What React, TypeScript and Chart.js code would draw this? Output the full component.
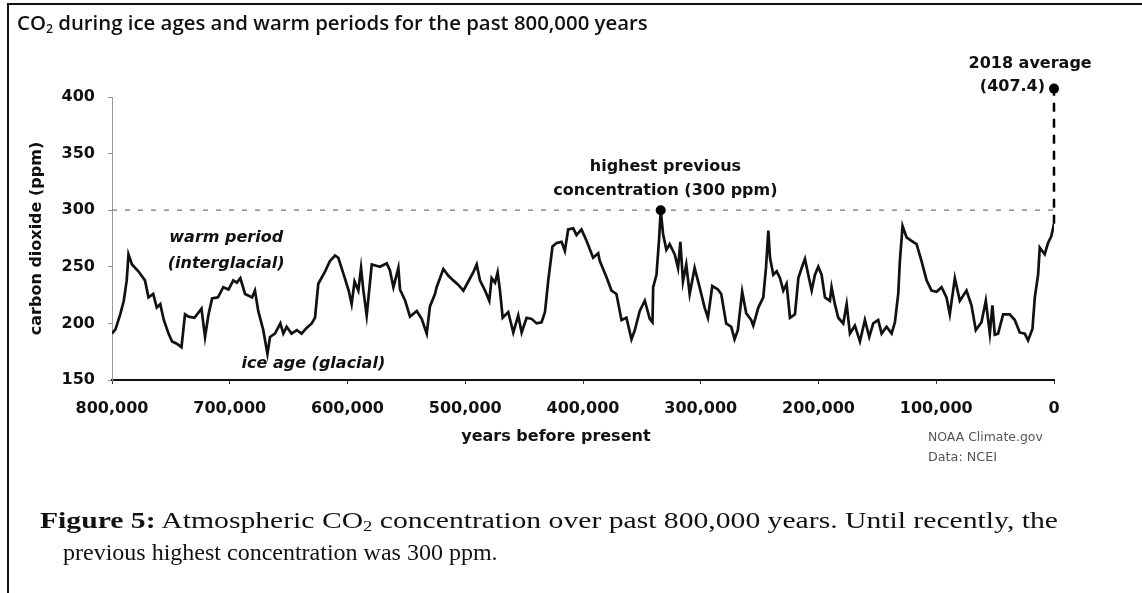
import React, { useEffect, useLayoutEffect, useRef, useState } from "react";
import { Chart, registerables } from "chart.js";

Chart.register(...registerables);

// thousands of years before present
const yearsKyr = [
  800, 797, 793, 790, 787.5, 786, 783, 777.6, 772, 769, 765, 762, 759, 756, 752, 749, 745, 741, 738, 735,
  730, 724, 721, 718, 715, 710, 705.5, 701, 697, 694, 691, 687, 681, 678.6, 675.8, 671.5, 668, 665.8, 661.6, 657,
  654.5, 651.7, 647.5, 643, 639, 634.7, 630.4, 627.6, 624.8, 619, 615, 610.6, 607.8, 603.5, 599, 596.5, 594, 590.8, 588.5, 586.5,
  583.7, 579.4, 572.4, 566.7, 564, 561, 556.8, 555.4, 551, 546.9, 541.2, 537, 532.7, 530, 525.7, 524.3, 518.6, 514.3, 510.2, 505.8,
  501.6, 497.4, 493.2, 490.3, 487.5, 483.2, 479.6, 477.6, 474.7, 472.5, 470.5, 468.2, 463.5, 459.2, 455, 452.1, 447.9, 443.6, 439.4, 435.2,
  432.3, 429.5, 425.9, 422.4, 418.2, 415.4, 412.6, 408.3, 405.5, 401.3, 397, 391.4, 387.1, 385.7, 380.1, 375.8, 371.6, 367.3, 363.1, 358.8,
  356, 351.8, 347.5, 343.3, 341, 340.4, 337.6, 335.4, 334, 332, 329.2, 326.4, 322.1, 319.3, 317.3, 315.1, 312.3, 309.4, 305.2, 301,
  296.7, 293.9, 290.2, 285.4, 282.6, 278.4, 274.1, 271.3, 268.5, 264.8, 261.4, 257.2, 255.4, 251.1, 246.9, 244.6, 242.6, 241.2, 238.4, 235.5,
  232.7, 229.9, 227.1, 224.2, 220, 217.1, 214.3, 211.5, 208.7, 205.8, 203, 200.2, 197.4, 194.5, 190.3, 188.9, 186.1, 183.2, 179, 176.1,
  173.3, 169.1, 164.8, 160.6, 156.9, 153.5, 149.3, 146.4, 142.2, 137.9, 135.1, 132.3, 130.9, 128.6, 125.2, 121, 116.7, 112.5, 108.2, 104,
  99.7, 95.5, 91.3, 88.5, 84.2, 80, 74.3, 70.1, 66.4, 61.6, 57.9, 54.5, 52.3, 50.3, 47.5, 43.2, 37.6, 33.3, 29.1, 24.8,
  22, 18.3, 16.3, 13.5, 12.1, 7.9, 5.1, 2.3, 0,
];

// CO2 (ppm)
const co2Ppm = [
  191, 195, 208, 220, 238, 261, 252, 246, 238, 223, 226, 214, 217, 203, 191, 184, 182, 179, 208, 206,
  205, 213, 188, 208, 222, 223, 232, 230, 238, 236, 240, 226, 223, 229, 211, 194, 173, 188, 191, 200,
  191, 197, 191, 194, 191, 196, 200, 205, 235, 246, 255, 260, 258, 244, 229, 217, 237, 229, 249, 229,
  207, 252, 250, 253, 247, 232, 249, 230, 220, 206, 211, 204, 191, 215, 226, 232, 248, 242, 238, 234,
  229, 237, 245, 252, 238, 229, 220, 240, 236, 245, 229, 205, 210, 192, 207, 192, 205, 204, 200, 201,
  210, 238, 268, 271, 272, 264, 283, 284, 278, 283, 273, 258, 262, 255, 241, 229, 226, 203, 205, 186,
  194, 211, 220, 204, 201, 232, 243, 274, 300, 279, 265, 270, 261, 249, 272, 237, 252, 226, 249, 232,
  214, 205, 233, 230, 226, 200, 197, 186, 194, 228, 209, 203, 198, 214, 223, 249, 282, 258, 243, 246,
  240, 229, 235, 205, 208, 240, 249, 257, 243, 229, 243, 250, 243, 223, 220, 232, 217, 205, 200, 217,
  191, 198, 184, 203, 188, 200, 203, 191, 197, 191, 201, 226, 255, 286, 276, 273, 270, 255, 238, 229,
  228, 232, 223, 208, 240, 220, 229, 216, 194, 201, 220, 191, 216, 190, 191, 208, 208, 203, 192, 191,
  185, 195, 223, 243, 267, 261, 271, 277, 288,
];

const xTicks = [800000, 700000, 600000, 500000, 400000, 300000, 200000, 100000, 0];
const yTicks = [150, 200, 250, 300, 350, 400];

const previousHighYear = 334000;
const previousHighPpm = 300;
const currentYear = 0;
const currentPpm = 407.4;

const labels = [
  { text: "warm period", x: 703000, y: 275.5, align: "center", italic: true },
  { text: "(interglacial)", x: 703000, y: 252.5, align: "center", italic: true },
  { text: "ice age (glacial)", x: 690000, y: 164, align: "left", italic: true },
  { text: "highest previous", x: 330000, y: 338.5, align: "center", italic: false },
  { text: "concentration (300 ppm)", x: 330000, y: 317.5, align: "center", italic: false },
  { text: "2018 average", x: -32000, y: 429, align: "right", italic: false },
  { text: "(407.4)", x: 7600, y: 409, align: "right", italic: false },
  { text: "years before present", x: 423000, y: 99.5, align: "center", italic: false },
];

const FONT = "'DejaVu Sans', sans-serif";

function Fit({ left, top, width, style, children }: any) {
  const ref = useRef<HTMLSpanElement>(null);
  const [scale, setScale] = useState(1);
  useLayoutEffect(() => {
    if (ref.current) {
      const w = ref.current.offsetWidth;
      if (w > 0) setScale(width / w);
    }
  }, [width]);
  return (
    <span
      ref={ref}
      style={{
        position: "absolute",
        left,
        top,
        whiteSpace: "nowrap",
        display: "inline-block",
        transformOrigin: "0 0",
        transform: `scaleX(${scale})`,
        lineHeight: 1,
        ...style,
      }}
    >
      {children}
    </span>
  );
}

const labelPlugin = {
  id: "labelPlugin",
  afterDatasetsDraw(chart: any) {
    const { ctx } = chart;
    const xs = chart.scales.x;
    const ys = chart.scales.y;
    ctx.save();
    // markers (drawn from the library's computed point positions, also outside the area)
    const meta = chart.getDatasetMeta(0);
    ctx.fillStyle = "#000";
    for (const p of meta.data) {
      ctx.beginPath();
      ctx.arc(p.x, p.y, 5, 0, Math.PI * 2);
      ctx.fill();
    }
    ctx.fillStyle = "#111";
    ctx.textBaseline = "middle";
    for (const l of labels) {
      ctx.font = `${l.italic ? "italic " : ""}bold 16px ${FONT}`;
      ctx.textAlign = l.align;
      ctx.fillText(l.text, xs.getPixelForValue(l.x), ys.getPixelForValue(l.y));
    }
    ctx.restore();
  },
};

export default function App() {
  const canvasRef = useRef<HTMLCanvasElement>(null);

  useEffect(() => {
    if (!canvasRef.current) return;
    const curve = yearsKyr.map((k, i) => ({ x: k * 1000, y: co2Ppm[i] }));
    const chart = new Chart(canvasRef.current, {
      type: "line",
      data: {
        datasets: [
          {
            data: [
              { x: previousHighYear, y: previousHighPpm },
              { x: currentYear, y: currentPpm },
            ],
            showLine: false,
            pointRadius: 0,
            clip: false,
            order: 0,
          } as any,
          {
            data: curve,
            borderColor: "#111",
            borderWidth: 2.7,
            pointRadius: 0,
            tension: 0,
            order: 1,
          },
          {
            data: [
              { x: currentYear, y: co2Ppm[co2Ppm.length - 1] },
              { x: currentYear, y: currentPpm },
            ],
            borderColor: "#000",
            borderWidth: 2.5,
            borderDash: [9, 7],
            pointRadius: 0,
            clip: false,
            order: 2,
          } as any,
          {
            data: [
              { x: xTicks[0], y: previousHighPpm },
              { x: xTicks[xTicks.length - 1], y: previousHighPpm },
            ],
            borderColor: "#777",
            borderWidth: 1.3,
            borderDash: [5, 8],
            pointRadius: 0,
            clip: false,
            order: 3,
          } as any,
        ],
      },
      options: {
        animation: false,
        responsive: false,
        events: [],
        layout: { padding: { left: 0, top: 97, right: 88, bottom: 0 } },
        plugins: { legend: { display: false }, tooltip: { enabled: false } },
        scales: {
          x: {
            type: "linear",
            reverse: true,
            min: 0,
            max: 800000,
            afterBuildTicks: (s: any) => {
              s.ticks = xTicks.map((v) => ({ value: v }));
            },
            afterFit: (s: any) => {
              s.height = 213;
              s.paddingLeft = 0;
              s.paddingRight = 0;
            },
            ticks: {
              autoSkip: false,
              maxRotation: 0,
              padding: 15,
              color: "#111",
              font: { family: FONT, size: 16, weight: "bold" },
              callback: (v: any) => Number(v).toLocaleString("en-US"),
            },
            grid: { display: true, drawOnChartArea: false, drawTicks: true, tickLength: 4, color: "#333" },
            border: { display: true, color: "#111", width: 2 },
          },
          y: {
            type: "linear",
            min: 150,
            max: 400,
            afterBuildTicks: (s: any) => {
              s.ticks = yTicks.map((v) => ({ value: v }));
            },
            afterFit: (s: any) => {
              s.width = 112;
              s.paddingTop = 0;
              s.paddingBottom = 0;
            },
            ticks: {
              padding: 13,
              color: "#111",
              font: { family: FONT, size: 16, weight: "bold" },
            },
            grid: { display: true, drawOnChartArea: false, drawTicks: true, tickLength: 4, color: "#999" },
            border: { display: true, color: "#999", width: 1 },
            title: {
              display: true,
              text: "carbon dioxide (ppm)",
              color: "#111",
              font: { family: FONT, size: 16, weight: "bold" },
              padding: { top: 27, bottom: 0 },
            },
          },
        },
      } as any,
      plugins: [labelPlugin],
    });
    return () => chart.destroy();
  }, []);

  return (
    <div
      style={{
        position: "fixed",
        left: 0,
        top: 0,
        width: 1142,
        height: 593,
        background: "#fff",
        overflow: "hidden",
      }}
    >
      <div
        style={{
          position: "absolute",
          left: 7,
          top: 3,
          width: 1200,
          height: 700,
          borderTop: "2px solid #111",
          borderLeft: "2px solid #111",
        }}
      />
      <canvas
        ref={canvasRef}
        width={1142}
        height={593}
        style={{ position: "absolute", left: 0, top: 0, width: 1142, height: 593 }}
      />
      <Fit left={17} top={13} width={631} style={{ fontFamily: "'Open Sans', sans-serif", fontWeight: 600, fontSize: 20, color: "#111" }}>
        CO<sub style={{ fontSize: 12, verticalAlign: "-3px", lineHeight: 0 }}>2</sub> during ice ages and warm periods for the past 800,000 years
      </Fit>
      <Fit left={928} top={431} width={115} style={{ fontFamily: FONT, fontSize: 12, color: "#555" }}>
        NOAA Climate.gov
      </Fit>
      <Fit left={928} top={451} width={69} style={{ fontFamily: FONT, fontSize: 12, color: "#555" }}>
        Data: NCEI
      </Fit>
      <Fit left={40} top={508} width={1018} style={{ fontFamily: "'Liberation Serif', serif", fontSize: 24, color: "#111" }}>
        <b>Figure 5:</b> Atmospheric CO<sub style={{ fontSize: 15, verticalAlign: "-3px", lineHeight: 0 }}>2</sub> concentration over past 800,000 years. Until recently, the
      </Fit>
      <Fit left={63} top={540} width={435} style={{ fontFamily: "'Liberation Serif', serif", fontSize: 24, color: "#111" }}>
        previous highest concentration was 300 ppm.
      </Fit>
    </div>
  );
}
